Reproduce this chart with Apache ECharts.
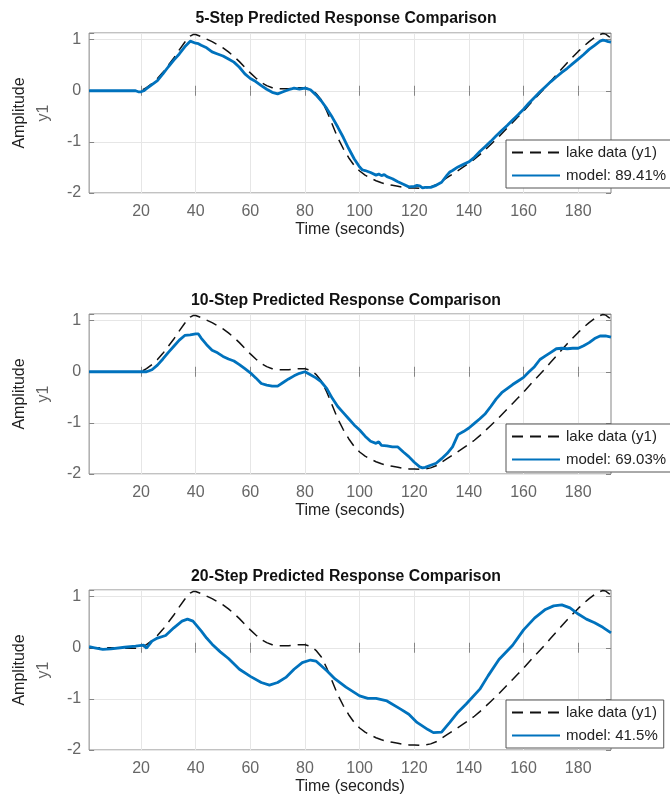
<!DOCTYPE html>
<html>
<head>
<meta charset="utf-8">
<script src="https://cdn.jsdelivr.net/npm/echarts@6/dist/echarts.min.js"></script>
<style>
  html, body { margin: 0; padding: 0; background: #ffffff; }
  #chart { width: 670px; height: 800px; }
</style>
</head>
<body>
<div id="chart"></div>
<script>
// Measured lake level (y1) and k-step-ahead model predictions
const lakeT = [1, 5, 10, 15, 19, 20, 22, 24, 26, 28, 30, 32, 34, 36, 38, 39, 40, 42, 44, 46, 48, 50, 52, 54, 56, 58, 60, 62, 64, 66, 68, 70, 72, 74, 76, 78, 80, 82, 84, 86, 88, 90, 92, 94, 96, 98, 100, 102, 104, 106, 108, 110, 112, 114, 116, 118, 120, 122, 124, 126, 128, 130, 132, 134, 136, 138, 140, 142, 144, 146, 148, 150, 152, 154, 156, 158, 160, 162, 164, 166, 168, 170, 172, 174, 176, 178, 180, 182, 184, 186, 188, 189, 190, 191, 192];
const lakeY = [0, 0, 0, -0.01, -0.01, 0, 0.06, 0.14, 0.24, 0.36, 0.5, 0.64, 0.8, 0.95, 1.07, 1.1, 1.1, 1.06, 1.01, 0.96, 0.9, 0.84, 0.76, 0.67, 0.57, 0.46, 0.35, 0.25, 0.16, 0.1, 0.06, 0.04, 0.04, 0.04, 0.05, 0.06, 0.06, 0.03, -0.05, -0.18, -0.4, -0.66, -0.92, -1.13, -1.31, -1.46, -1.57, -1.65, -1.71, -1.76, -1.8, -1.83, -1.85, -1.87, -1.89, -1.9, -1.9, -1.91, -1.9, -1.88, -1.84, -1.77, -1.7, -1.63, -1.56, -1.49, -1.42, -1.34, -1.25, -1.15, -1.05, -0.95, -0.84, -0.73, -0.62, -0.51, -0.4, -0.28, -0.16, -0.05, 0.07, 0.19, 0.31, 0.43, 0.55, 0.66, 0.77, 0.87, 0.96, 1.04, 1.1, 1.12, 1.11, 1.07, 1.03];

const step5T = [1, 10, 18, 19, 20, 21, 22, 24, 26, 28, 30, 32, 34, 36, 38, 38.5, 40, 41, 42, 44, 46, 48, 50, 52, 54, 56, 58, 60, 62, 64, 66, 68, 70, 72, 74, 76, 78, 80, 82, 84, 86, 88, 90, 92, 94, 96, 98, 100, 101, 102, 104, 106, 107, 108, 109, 110, 112, 114, 116, 118, 120, 121, 122, 123, 124, 126, 128, 130, 132, 133, 134, 136, 138, 140, 142, 144, 146, 148, 150, 152, 154, 156, 158, 160, 162, 164, 166, 168, 170, 172, 174, 176, 178, 180, 182, 184, 186, 188, 189, 190, 191, 192];
const step5Y = [0, 0, 0, -0.02, -0.02, 0, 0.04, 0.12, 0.2, 0.33, 0.47, 0.6, 0.72, 0.86, 0.97, 0.99, 0.93, 0.92, 0.89, 0.84, 0.76, 0.72, 0.68, 0.62, 0.56, 0.46, 0.33, 0.24, 0.18, 0.1, 0.03, -0.03, -0.06, -0.02, 0.02, 0.05, 0.03, 0.05, 0.02, -0.08, -0.2, -0.35, -0.52, -0.71, -0.91, -1.13, -1.33, -1.49, -1.55, -1.56, -1.6, -1.65, -1.63, -1.66, -1.64, -1.68, -1.72, -1.78, -1.83, -1.88, -1.87, -1.85, -1.86, -1.9, -1.89, -1.89, -1.85, -1.79, -1.65, -1.59, -1.56, -1.49, -1.44, -1.39, -1.3, -1.19, -1.09, -0.99, -0.88, -0.78, -0.68, -0.57, -0.47, -0.36, -0.24, -0.13, -0.02, 0.08, 0.18, 0.27, 0.36, 0.44, 0.53, 0.62, 0.71, 0.81, 0.89, 0.97, 0.99, 0.98, 0.96, 0.95];

const step10T = [1, 10, 20, 22, 24, 26, 28, 30, 32, 34, 36, 38, 40, 41, 42, 44, 46, 48, 50, 52, 54, 56, 58, 60, 62, 64, 66, 68, 70, 72, 74, 76, 78, 80, 82, 84, 86, 88, 90, 92, 94, 96, 98, 100, 102, 104, 106, 107, 108, 110, 112, 114, 116, 118, 120, 122, 123, 124, 126, 128, 130, 132, 134, 136, 138, 140, 142, 144, 146, 148, 150, 152, 154, 156, 158, 160, 162, 164, 166, 168, 170, 172, 174, 176, 178, 180, 182, 184, 186, 188, 190, 192];
const step10Y = [0, 0, 0, 0, 0.04, 0.13, 0.25, 0.38, 0.5, 0.62, 0.71, 0.72, 0.74, 0.74, 0.66, 0.53, 0.42, 0.37, 0.3, 0.25, 0.21, 0.14, 0.06, -0.02, -0.12, -0.23, -0.26, -0.28, -0.28, -0.21, -0.14, -0.08, -0.03, 0, -0.06, -0.12, -0.2, -0.33, -0.52, -0.68, -0.8, -0.92, -1.04, -1.14, -1.26, -1.36, -1.4, -1.37, -1.44, -1.45, -1.47, -1.47, -1.57, -1.66, -1.77, -1.86, -1.88, -1.87, -1.83, -1.79, -1.7, -1.6, -1.47, -1.23, -1.17, -1.1, -1.01, -0.92, -0.82, -0.68, -0.53, -0.41, -0.33, -0.25, -0.18, -0.11, 0, 0.1, 0.24, 0.31, 0.38, 0.45, 0.46, 0.45, 0.46, 0.46, 0.51, 0.57, 0.65, 0.7, 0.7, 0.68];

const step20T = [1, 3, 6, 9, 14, 18, 21, 22, 24, 26, 29, 32, 35, 37, 39, 42, 44, 46, 49, 52, 56, 60, 64, 67, 70, 73, 76, 79, 82, 84, 88, 91, 95, 100, 103, 106, 110, 115, 118, 121, 125, 127, 130, 133, 136, 139, 144, 147, 151, 156, 160, 164, 168, 171, 174, 177, 180, 183, 186, 189, 192];
const step20Y = [0.02, 0, -0.03, -0.02, 0.01, 0.03, 0.05, -0.01, 0.13, 0.19, 0.24, 0.39, 0.52, 0.56, 0.52, 0.33, 0.19, 0.07, -0.08, -0.21, -0.42, -0.56, -0.68, -0.73, -0.68, -0.58, -0.42, -0.29, -0.24, -0.26, -0.45, -0.61, -0.77, -0.94, -0.99, -0.99, -1.04, -1.2, -1.3, -1.46, -1.6, -1.66, -1.65, -1.46, -1.26, -1.1, -0.81, -0.55, -0.23, 0.05, 0.35, 0.58, 0.75, 0.82, 0.84, 0.78, 0.66, 0.56, 0.49, 0.4, 0.29];

const panelTitles = ['5-Step Predicted Response Comparison', '10-Step Predicted Response Comparison', '20-Step Predicted Response Comparison'];
const modelNames = ['model: 89.41%', 'model: 69.03%', 'model: 41.5%'];
const dataName = 'lake data (y1)';
const xTicks = [20, 40, 60, 80, 100, 120, 140, 160, 180];
const xRange = [1, 192];
const yRange = [-2, 1.13];

const FONT = 'Liberation Sans';
const FRAME = '#858585';
const LABEL_GRAY = '#666666';
const BLUE = '#0072BD';

const pairs = (t, v) => t.map((x, i) => [x, v[i]]);
const modelSets = [pairs(step5T, step5Y), pairs(step10T, step10Y), pairs(step20T, step20Y)];
const lakeSet = pairs(lakeT, lakeY);

const gridTops = [33, 314, 590];
const gridHeight = 160;
const titleTops = [6, 288, 564];
const legendTops = [140, 424, 700];

const grids = [], xAxes = [], yAxes = [], series = [], titles = [], legends = [];

gridTops.forEach((top, k) => {
  grids.push({ left: 71, right: 59, top: top, height: gridHeight, show: true, borderColor: FRAME, borderWidth: 1, backgroundColor: '#ffffff' });
  titles.push({
    text: panelTitles[k], left: 341, top: titleTops[k], textAlign: 'center',
    textStyle: { fontFamily: FONT, fontSize: 15.8, fontWeight: 'bold', color: '#111111' }
  });
  // bottom axis with labels and grid lines
  xAxes.push({
    type: 'value', gridIndex: k, min: xRange[0], max: xRange[1], position: 'bottom',
    name: 'Time (seconds)', nameLocation: 'middle', nameGap: 29,
    nameTextStyle: { fontFamily: FONT, fontSize: 16, color: '#222222' },
    axisLine: { show: false },
    axisTick: { show: true, inside: true, length: 5, customValues: xTicks, lineStyle: { color: FRAME } },
    axisLabel: { customValues: xTicks, fontFamily: FONT, fontSize: 16, color: LABEL_GRAY, margin: 11 },
    splitLine: { show: true, lineStyle: { color: '#e6e6e6', width: 1 } }
  });
  // top axis: inward ticks only
  xAxes.push({
    type: 'value', gridIndex: k, min: xRange[0], max: xRange[1], position: 'top',
    axisLine: { show: false },
    axisTick: { show: true, inside: true, length: 5, customValues: xTicks, lineStyle: { color: FRAME } },
    axisLabel: { show: false }, splitLine: { show: false }
  });
  yAxes.push({
    type: 'value', gridIndex: k, min: yRange[0], max: yRange[1], interval: 1, position: 'left',
    name: '{a|Amplitude}\n{b|y1}', nameLocation: 'middle', nameRotate: 90, nameGap: 20,
    nameTextStyle: {
      fontFamily: FONT, fontSize: 16, lineHeight: 24,
      rich: {
        a: { fontFamily: FONT, fontSize: 16, color: '#222222', lineHeight: 24 },
        b: { fontFamily: FONT, fontSize: 16, color: LABEL_GRAY, lineHeight: 24 }
      }
    },
    axisLine: { show: false },
    axisTick: { show: true, inside: true, length: 5, lineStyle: { color: FRAME } },
    axisLabel: {
      fontFamily: FONT, fontSize: 16, color: LABEL_GRAY, margin: 8,
      formatter: v => (Math.abs(v - Math.round(v)) < 1e-9 ? String(Math.round(v)) : '')
    },
    splitLine: { show: true, lineStyle: { color: '#e6e6e6', width: 1 } }
  });
  // right axis: inward ticks only
  yAxes.push({
    type: 'value', gridIndex: k, min: yRange[0], max: yRange[1], interval: 1, position: 'right',
    axisLine: { show: false },
    axisTick: { show: true, inside: true, length: 5, lineStyle: { color: FRAME } },
    axisLabel: { show: false }, splitLine: { show: false }
  });

  series.push({
    name: dataName, type: 'line', xAxisIndex: 2 * k, yAxisIndex: 2 * k,
    data: lakeSet, symbol: 'none', smooth: false, z: 3,
    lineStyle: { color: '#111111', width: 1.5, type: [11, 7] },
    itemStyle: { color: '#111111' }
  });
  series.push({
    name: modelNames[k], type: 'line', xAxisIndex: 2 * k, yAxisIndex: 2 * k,
    data: modelSets[k], symbol: 'none', smooth: false, z: 4,
    lineStyle: { color: BLUE, width: 2.8 },
    itemStyle: { color: BLUE }
  });

  legends.push({
    data: [dataName, modelNames[k]], orient: 'vertical', left: 506, top: legendTops[k],
    backgroundColor: '#ffffff', borderColor: '#555555', borderWidth: 1, borderRadius: 0,
    padding: [5, 6, 5, 5], itemWidth: 48, itemHeight: 14, itemGap: 8,
    selectedMode: false,
    // line-only keys: hide the marker drawn in the middle of each key
    itemStyle: { opacity: 0 },
    lineStyle: { opacity: 1 },
    textStyle: { fontFamily: FONT, fontSize: 15, color: '#222222', padding: [0, 0, 0, 1] }
  });
});

const chart = echarts.init(document.getElementById('chart'), null, { renderer: 'canvas' });
chart.setOption({
  animation: false,
  backgroundColor: '#ffffff',
  title: titles,
  legend: legends,
  grid: grids,
  xAxis: xAxes,
  yAxis: yAxes,
  series: series
});
</script>
</body>
</html>
